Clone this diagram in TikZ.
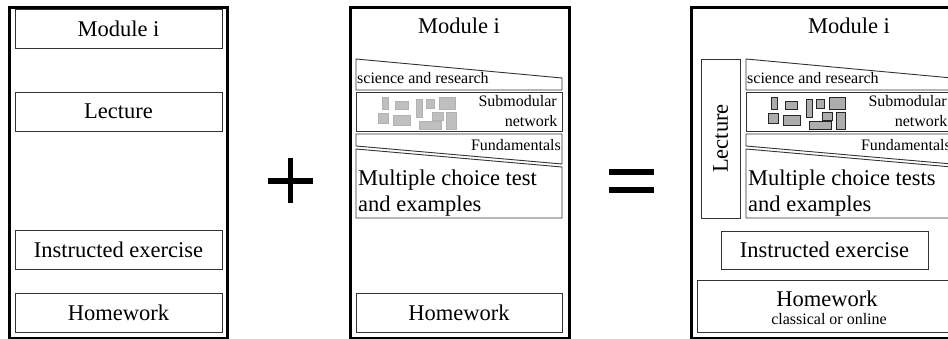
\documentclass[tikz,border=0pt]{standalone}
\usepackage{fontspec}
\setmainfont{Liberation Serif}
\begin{document}
\begin{tikzpicture}[x=1pt,y=-1pt,
  panel/.style={draw=black, line width=3pt, inner sep=0pt},
  box/.style={draw=black!80, line width=0.9pt, inner sep=0pt, outer sep=0pt},
  txtbig/.style={font=\fontsize{22.5}{25}\selectfont, inner sep=0pt},
  txtsmall/.style={font=\fontsize{16}{19}\selectfont, inner sep=0pt},
  tilelight/.style={fill=black!25, draw=black!30, line width=0.4pt},
  tiledark/.style={fill=black!32, draw=black!85, line width=0.8pt},
  sign/.style={line width=5.8pt}]
\useasboundingbox (0,0) rectangle (948,339);
\clip (0,0) rectangle (948,339);

% ---------- first module: classical layout ----------
\node[panel, minimum width=218.2pt, minimum height=330.5pt] (frameA) at (118.6,172.75) {};
\node[box, txtbig, minimum width=207pt, minimum height=38.5pt] (modA) at (118.5,28.75) {Module i};
\node[box, txtbig, minimum width=207pt, minimum height=39pt] (lecA) at (118.5,111.5) {Lecture};
\node[box, txtbig, minimum width=207pt, minimum height=39pt] (insA) at (118.5,249.5) {Instructed exercise};
\node[box, txtbig, minimum width=207pt, minimum height=39pt] (homeA) at (118.5,312.5) {Homework};

% plus sign
\draw[sign] (268.3,181.2) -- (313.3,181.2);
\draw[sign] (290.5,158.3) -- (290.5,203.3);

% ---------- second module frame ----------
\node[panel, minimum width=219pt, minimum height=330.5pt] (frameB) at (459.5,172.75) {};
\node[box, txtbig, minimum width=206pt, minimum height=39pt] (homeB) at (459,312.5) {Homework};

% equals sign
\draw[sign] (609,172.2) -- (654.3,172.2);
\draw[sign] (609,190.3) -- (654.3,190.3);

% ---------- third module frame ----------
\node[panel, minimum width=270.3pt, minimum height=330.5pt] (frameC) at (826.85,172.75) {};
\node[box, minimum width=39pt, minimum height=159pt] (lecC) at (720.5,138.5) {};
\node[txtbig, rotate=90] (lecCt) at (lecC) {Lecture};
\node[box, txtbig, minimum width=207pt, minimum height=38pt] (insC) at (824.5,250) {Instructed exercise};
\node[box, minimum width=260pt, minimum height=52pt] (homeC) at (827,306) {};
\node[txtbig, anchor=base] (homeCt) at (827,306) {Homework};
\node[txtsmall, anchor=base] (homeCs) at (829,324) {classical or online};

% ---------- shared content column of the blended module ----------
\foreach \dx/\t/\tile/\mc in {0/B/tilelight/{Multiple choice test}, 390/C/tiledark/{Multiple choice tests}}{
  \begin{scope}[shift={(\dx,0)}]
    \node[txtbig, anchor=base] (mod\t) at (459,34) {Module i};
    % science and research wedge
    \draw[box] (356,59) -- (562,78) -- (562,90) -- (356,90) -- cycle;
    \node[txtsmall, anchor=base west] (sci\t) at (357,84) {science and research};
    % submodular network
    \node[box, minimum width=206pt, minimum height=38.5pt] (sub\t) at (459,111.75) {};
    \foreach \xa/\ya/\xb/\yb in {381.7/97.3/387.7/109.3, 395/101.7/407.7/109.3,
        416/99.3/422.3/117.3, 426/99/434.3/108.3, 439/97.3/455/109.3,
        378.3/113.3/388.3/123.3, 393.3/115/410/125, 432.3/112.3/442.7/120,
        419.3/121.7/441/129, 446/112.7/455.7/129}
      \draw[\tile] (\xa,\ya) rectangle (\xb,\yb);
    \node[txtsmall, anchor=base east] (subA\t) at (557,107) {Submodular};
    \node[txtsmall, anchor=base east] (subB\t) at (557.5,126.5) {network};
    % fundamentals wedge
    \draw[box] (356,134) -- (562,134) -- (562,164) -- (356,146) -- cycle;
    \node[txtsmall, anchor=base east] (fund\t) at (561,150.5) {Fundamentals};
    % tests and examples
    \draw[box] (356,149) -- (562,167) -- (562,218) -- (356,218) -- cycle;
    \node[txtbig, anchor=base west] (mcA\t) at (358,186) {\mc};
    \node[txtbig, anchor=base west] (mcB\t) at (358,211.5) {and examples};
  \end{scope}
}
\end{tikzpicture}
\end{document}
